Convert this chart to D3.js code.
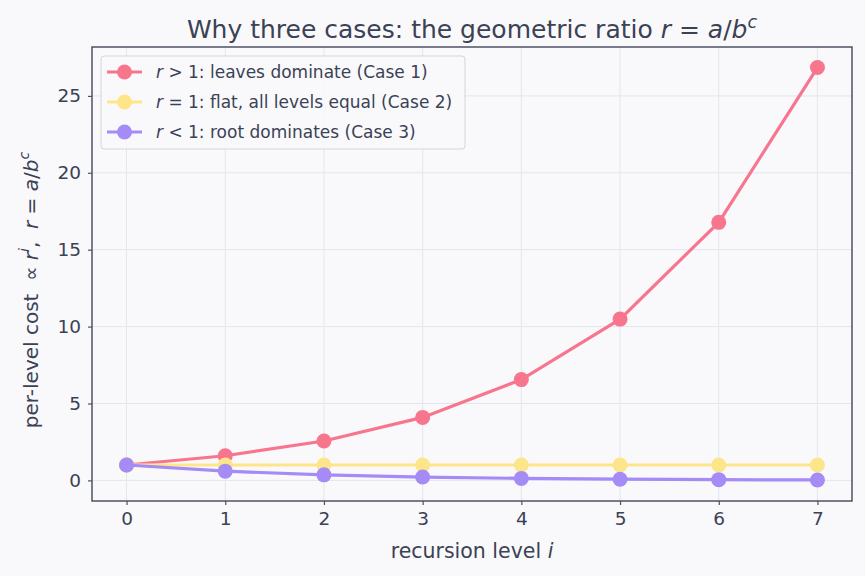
<!DOCTYPE html>
<html>
<head>
<meta charset="utf-8">
<script src="https://cdn.jsdelivr.net/npm/d3@7"></script>
<style>
  body { margin: 0; background: #f9f9fc; }
  svg { font-family: "DejaVu Sans", sans-serif; }
  text { white-space: pre; }
</style>
</head>
<body>
<svg id="chart" width="865" height="576"></svg>
<script>
// recursion levels and per-level cost r^i for each case
const levels = [0, 1, 2, 3, 4, 5, 6, 7]
const leaves = [1, 1.6, 2.56, 4.096, 6.554, 10.486, 16.777, 26.844]
const flat   = [1, 1, 1, 1, 1, 1, 1, 1]
const root   = [1, 0.6, 0.36, 0.216, 0.130, 0.078, 0.047, 0.028]
const yTicks = [0, 5, 10, 15, 20, 25]

const series = [
  {name: "leaves", values: leaves, color: "#f7768e", rel: ">", text: ": leaves dominate (Case 1)"},
  {name: "flat",   values: flat,   color: "#fde68a", rel: "=", text: ": flat, all levels equal (Case 2)"},
  {name: "root",   values: root,   color: "#a48bf6", rel: "<", text: ": root dominates (Case 3)"}
]

const ink = "#3b4254"
const margin = {left: 92, right: 13, top: 47, bottom: 75}
const W = 865, H = 576
const svg = d3.select("#chart")

const x = d3.scaleLinear().domain([-0.35, 7.35]).range([margin.left, W - margin.right])
const y = d3.scaleLinear().domain([-1.34, 28.18]).range([H - margin.bottom, margin.top])

// grid
const grid = svg.append("g").attr("stroke", "#e3e6ec").attr("stroke-width", 1)
grid.selectAll(".gx").data(levels).enter().append("line")
  .attr("x1", d => x(d)).attr("x2", d => x(d))
  .attr("y1", margin.top).attr("y2", H - margin.bottom)
grid.selectAll(".gy").data(yTicks).enter().append("line")
  .attr("y1", d => y(d)).attr("y2", d => y(d))
  .attr("x1", margin.left).attr("x2", W - margin.right)

// axes
const xAxis = svg.append("g")
  .attr("transform", `translate(0,${H - margin.bottom})`)
  .call(d3.axisBottom(x).tickValues(levels).tickSize(4).tickPadding(7))
const yAxis = svg.append("g")
  .attr("transform", `translate(${margin.left},0)`)
  .call(d3.axisLeft(y).tickValues(yTicks).tickSize(4).tickPadding(7))
for (const a of [xAxis, yAxis]) {
  a.select(".domain").remove()
  a.selectAll(".tick line").attr("stroke", "#4d5263").attr("stroke-width", 1.2)
  a.selectAll(".tick text").attr("fill", ink).attr("font-size", 18.5)
    .attr("font-family", "DejaVu Sans, sans-serif")
}

// lines + markers
const line = d3.line().x((d, i) => x(levels[i])).y(d => y(d))
series.forEach(s => {
  const g = svg.append("g").attr("id", s.name)
  g.append("path").datum(s.values)
    .attr("d", line).attr("fill", "none")
    .attr("stroke", s.color).attr("stroke-width", 3.2)
  g.selectAll("circle").data(s.values).enter().append("circle")
    .attr("cx", (d, i) => x(levels[i])).attr("cy", d => y(d))
    .attr("r", 7.5).attr("fill", s.color)
})

// frame
svg.append("rect")
  .attr("x", margin.left).attr("y", margin.top)
  .attr("width", W - margin.left - margin.right)
  .attr("height", H - margin.top - margin.bottom)
  .attr("fill", "none").attr("stroke", "#4d5263").attr("stroke-width", 1.5)

// title
const title = svg.append("text")
  .attr("x", (margin.left + W - margin.right) / 2).attr("y", 38)
  .attr("text-anchor", "middle").attr("font-size", 25).attr("fill", ink)
title.append("tspan").text("Why three cases: the geometric ratio ")
title.append("tspan").attr("font-style", "italic").text("r")
title.append("tspan").text(" = ")
title.append("tspan").attr("font-style", "italic").text("a")
title.append("tspan").text("/")
title.append("tspan").attr("font-style", "italic").text("b")
title.append("tspan").attr("font-style", "italic").attr("font-size", 17.5).attr("dy", -10).text("c")

// x label
const xl = svg.append("text")
  .attr("x", (margin.left + W - margin.right) / 2).attr("y", 558)
  .attr("text-anchor", "middle").attr("font-size", 20.5).attr("fill", ink)
xl.append("tspan").text("recursion level ")
xl.append("tspan").attr("font-style", "italic").text("i")

// y label
const yl = svg.append("text")
  .attr("transform", `translate(38,${(margin.top + H - margin.bottom) / 2 + 16}) rotate(-90)`)
  .attr("text-anchor", "middle").attr("font-size", 20).attr("fill", ink)
yl.append("tspan").text("per-level cost  \u221D ")
yl.append("tspan").attr("font-style", "italic").text("r")
yl.append("tspan").attr("font-style", "italic").attr("font-size", 14).attr("dy", -9).text("i")
yl.append("tspan").attr("dy", 9).text(",  ")
yl.append("tspan").attr("font-style", "italic").text("r")
yl.append("tspan").text(" = ")
yl.append("tspan").attr("font-style", "italic").text("a")
yl.append("tspan").text("/")
yl.append("tspan").attr("font-style", "italic").text("b")
yl.append("tspan").attr("font-style", "italic").attr("font-size", 14).attr("dy", -9).text("c")

// legend
const lg = svg.append("g").attr("transform", "translate(101,56)")
lg.append("rect").attr("width", 364).attr("height", 93).attr("rx", 3)
  .attr("fill", "#f9f9fc").attr("fill-opacity", 0.85)
  .attr("stroke", "#d3d5db").attr("stroke-width", 1)
series.forEach((s, i) => {
  const row = lg.append("g").attr("transform", `translate(0,${16 + i * 30})`)
  row.append("line").attr("x1", 6).attr("x2", 41).attr("stroke", s.color).attr("stroke-width", 3.2)
  row.append("circle").attr("cx", 23.5).attr("r", 7.5).attr("fill", s.color)
  const t = row.append("text").attr("x", 55).attr("dy", "0.35em")
    .attr("font-size", 17).attr("fill", ink)
  t.append("tspan").attr("font-style", "italic").text("r")
  t.append("tspan").text(" " + s.rel + " 1" + s.text)
})
</script>
</body>
</html>
